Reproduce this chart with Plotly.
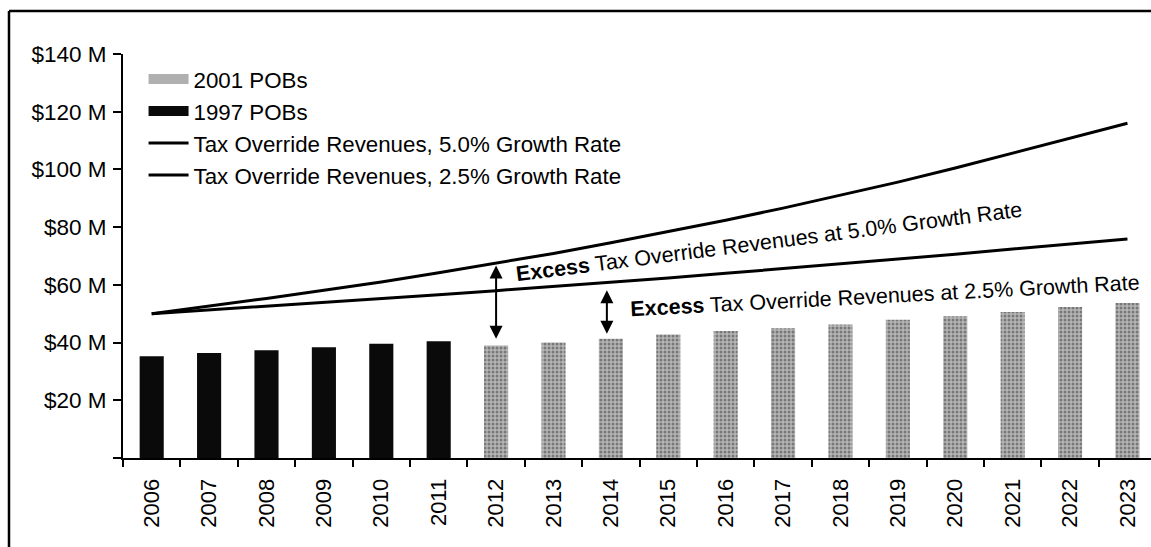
import plotly.graph_objects as go

years = [str(y) for y in range(2006, 2024)]
pob1997_years = years[:6]
pob1997_vals = [35.3, 36.4, 37.3, 38.4, 39.6, 40.5]
pob2001_years = years[6:]
pob2001_vals = [39.0, 40.0, 41.3, 42.8, 44.0, 45.0, 46.3, 47.9, 49.1, 50.6, 52.3, 53.7]
rev_5 = [50.0, 52.6, 55.3, 58.1, 61.0, 64.2, 67.5, 70.9, 74.6, 78.4, 82.4, 86.6, 91.0, 95.6, 100.5, 105.6, 110.7, 116.0]
rev_25 = [50.0, 51.3, 52.5, 53.8, 55.2, 56.6, 58.0, 59.4, 60.9, 62.4, 64.0, 65.6, 67.2, 68.9, 70.6, 72.4, 74.2, 75.9]
y_tickvals = [0, 20, 40, 60, 80, 100, 120, 140]
y_ticktext = ["", "$20 M", "$40 M", "$60 M", "$80 M", "$100 M", "$120 M", "$140 M"]

FONT = "Arial, Liberation Sans, sans-serif"
GREY_BG = "#b6b6b6"
GREY_FG = "#3a3a3a"

fig = go.Figure()
# legend proxies (wide rectangular swatches)
fig.add_trace(go.Scatter(x=[None], y=[None], mode="lines", name="2001 POBs",
                         line=dict(color="#b0b0b0", width=12)))
fig.add_trace(go.Scatter(x=[None], y=[None], mode="lines", name="1997 POBs",
                         line=dict(color="#0a0a0a", width=12)))
fig.add_trace(go.Bar(
    x=pob2001_years, y=pob2001_vals, name="2001 POBs", width=0.42, showlegend=False,
    marker=dict(color=GREY_BG, line=dict(width=0),
                pattern=dict(shape=".", fgcolor=GREY_FG, bgcolor=GREY_BG, size=4, solidity=0.45)),
))
fig.add_trace(go.Bar(
    x=pob1997_years, y=pob1997_vals, name="1997 POBs", width=0.42, showlegend=False,
    marker=dict(color="#0a0a0a", line=dict(width=0)),
))
fig.add_trace(go.Scatter(
    x=years, y=rev_5, mode="lines", name="Tax Override Revenues, 5.0% Growth Rate",
    line=dict(color="black", width=3),
))
fig.add_trace(go.Scatter(
    x=years, y=rev_25, mode="lines", name="Tax Override Revenues, 2.5% Growth Rate",
    line=dict(color="black", width=3),
))

# double-headed arrows
for xi, y_top, y_bot in [(6, 66.7, 40.8), (7.93, 58.1, 42.5)]:
    fig.add_annotation(x=xi, y=y_top, ax=xi, ay=y_bot, xref="x", yref="y", axref="x", ayref="y",
                       text="", showarrow=True, arrowhead=2, startarrowhead=2, arrowside="end+start",
                       arrowsize=1.3, startarrowsize=1.3, arrowwidth=2, arrowcolor="black")

fig.add_annotation(x=10.75, y=75.0, xref="x", yref="y", showarrow=False, textangle=-7.3,
                   text="<b>Excess</b> Tax Override Revenues at 5.0% Growth Rate",
                   font=dict(family=FONT, size=21.5, color="black"))
fig.add_annotation(x=12.77, y=56.3, xref="x", yref="y", showarrow=False, textangle=-3,
                   text="<b>Excess</b> Tax Override Revenues at 2.5% Growth Rate",
                   font=dict(family=FONT, size=21.5, color="black"))

# outer frame: top and left border lines only
fig.add_shape(type="line", xref="paper", yref="paper", x0=-0.1109, x1=1.2, y0=1.1064, y1=1.1064,
              line=dict(color="black", width=2.5), layer="above")
fig.add_shape(type="line", xref="paper", yref="paper", x0=-0.1109, x1=-0.1109, y0=-0.4, y1=1.1064,
              line=dict(color="black", width=2.5), layer="above")

fig.update_layout(
    width=1151, height=547,
    margin=dict(l=123, r=0, t=54, b=89, pad=0),
    paper_bgcolor="white", plot_bgcolor="white",
    barmode="overlay",
    font=dict(family=FONT, size=22, color="black"),
    showlegend=True,
    legend=dict(x=0.02, y=0.99, xanchor="left", yanchor="top", bgcolor="rgba(0,0,0,0)",
                font=dict(family=FONT, size=22.3, color="black"), itemwidth=40,
                traceorder="normal", tracegroupgap=0),
    xaxis=dict(type="category", categoryorder="array", categoryarray=years, automargin=False,
               range=[-0.5, 17.41], showgrid=False, showline=True, linecolor="black", linewidth=2,
               ticks="outside", tickson="boundaries", ticklen=7, tickwidth=2, tickcolor="black",
               tickangle=-90, tickfont=dict(family=FONT, size=22, color="black"), zeroline=False,
               ticklabelstandoff=10),
    yaxis=dict(range=[0, 140], tickvals=y_tickvals, ticktext=y_ticktext, showgrid=False, automargin=False,
               showline=True, linecolor="black", linewidth=2, ticks="outside", ticklen=8,
               tickwidth=2, tickcolor="black", zeroline=False,
               tickfont=dict(family=FONT, size=22.5, color="black"), ticklabelstandoff=2),
)

# remove the default page margin so the figure sits at the window's top-left corner
fig.write_html("out.html", config={"displayModeBar": False},
               post_script="document.body.style.margin='0';document.body.style.overflow='hidden';")
